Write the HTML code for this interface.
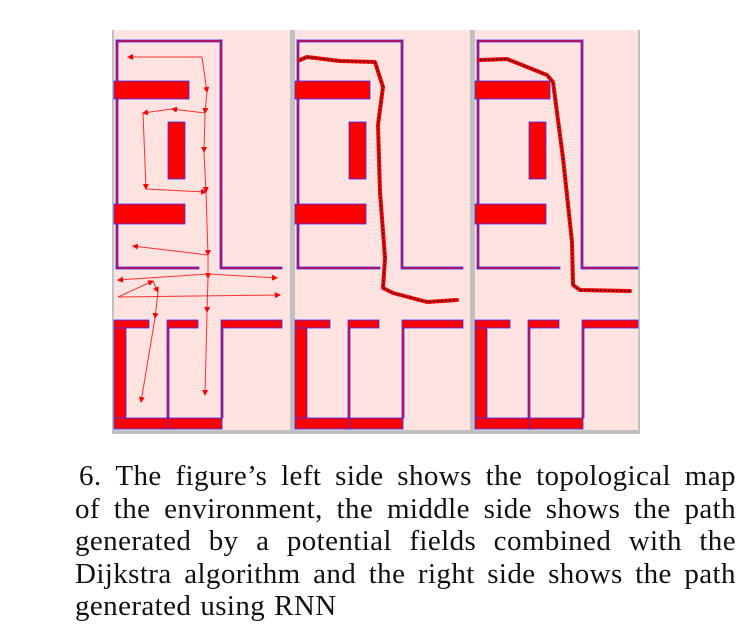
<!DOCTYPE html>
<html><head><meta charset="utf-8"><style>
html,body{margin:0;padding:0;background:#fff;width:750px;height:644px;overflow:hidden}
#cap{position:absolute;left:75px;top:460px;width:661px;font-family:"Liberation Serif",serif;font-size:29px;letter-spacing:0.4px;line-height:32.6px;color:#111}
#cap div{white-space:nowrap;display:flex;justify-content:space-between}
#cap div.last{justify-content:flex-start;gap:9px}
</style></head><body>
<svg id="fig" width="750" height="460" style="position:absolute;left:0;top:0">
<defs><marker id="ah" markerWidth="6" markerHeight="6" refX="5" refY="3" orient="auto"><path d="M0,0 L6,3 L0,6 z" fill="#f00"/></marker></defs>
</svg>
<div id="cap">
<div style="padding-left:4px"><span>6.</span><span>The</span><span>figure’s</span><span>left</span><span>side</span><span>shows</span><span>the</span><span>topological</span><span>map</span></div>
<div><span>of</span><span>the</span><span>environment,</span><span>the</span><span>middle</span><span>side</span><span>shows</span><span>the</span><span>path</span></div>
<div><span>generated</span><span>by</span><span>a</span><span>potential</span><span>fields</span><span>combined</span><span>with</span><span>the</span></div>
<div><span>Dijkstra</span><span>algorithm</span><span>and</span><span>the</span><span>right</span><span>side</span><span>shows</span><span>the</span><span>path</span></div>
<div class="last"><span>generated</span><span>using</span><span>RNN</span></div>
</div>
<script>
// panel-relative path data (x from panel left, absolute y)
const topoSegments = [
 [[88,57],[14,57]],
 [[88,57],[93,92],[91,113],[90,152],[92,192],[94,255],[94,278],[93,312],[91,395]],
 [[91,113],[58,109],[29,113],[32,189],[92,192]],
 [[94,255],[19,246]],
 [[94,274],[4,280]],
 [[94,274],[163,278]],
 [[4,297],[166,295]],
 [[4,297],[39,281],[44,292],[41,318],[27,402]]
];
const pfPath = [[5,60],[12,57],[45,61],[80,62],[88,87],[83,125],[85,192],[90,258],[88,288],[98,293],[132,302],[162,300]];
const rnnPath = [[5,60],[32,59],[72,75],[78,82],[88,158],[97,242],[98,285],[105,290],[155,291]];
const panelLefts = [114,295,475];
const svg = document.getElementById('fig');
const NS='http://www.w3.org/2000/svg';
function mk(t,a,name){const e=document.createElementNS(NS,t);for(const k in a)e.setAttribute(k,a[k]);


svg.appendChild(e);return e;}
mk('rect',{x:112,y:30,width:528,height:404,fill:'#c0c0c0'},'figure-frame');
const widths=[176,175,163];
panelLefts.forEach((L,i)=>{
 const W=widths[i];
 mk('rect',{x:L,y:30,width:W,height:400,fill:'#ffe3e1'},'panel-background');
 const wall=(x,y,w,h)=>mk('rect',{x:L+x,y:y,width:Math.min(w,W-x),height:h,fill:'#ff0000',stroke:'#3333ff','stroke-width':0.8},'wall');
 wall(2,40,106,2); wall(106,40,2,229); wall(2,40,2,229);
 wall(0,81,75,18); wall(54,122,17,57); wall(0,204,71,20);
 wall(2,267,83,2); wall(108,267,60,2);
 wall(0,320,35,8); wall(53,320,31,8); wall(107,320,61,8);
 wall(0,328,12,90); wall(53,328,2,90); wall(107,328,2,90);
 wall(0,418,54,11); wall(54,418,54,11);
});
const L0=panelLefts[0];
topoSegments.forEach(seg=>{
 for(let j=0;j<seg.length-1;j++){
  mk('line',{x1:L0+seg[j][0],y1:seg[j][1],x2:L0+seg[j+1][0],y2:seg[j+1][1],stroke:'#ff3030','stroke-width':1,'marker-end':'url(#ah)'},'topo-edge');
 }
});
function path(pts,L,name){
 const d=pts.map((p,k)=>(k?'L':'M')+(L+p[0])+','+p[1]).join(' ');
 mk('path',{d:d,fill:'none',stroke:'#ff0000','stroke-width':4,'stroke-linejoin':'round','stroke-linecap':'round'},name+'-outline');
 mk('path',{d:d,fill:'none',stroke:'#222','stroke-width':1.6,'stroke-dasharray':'2 2'},name);
}
path(pfPath,panelLefts[1],'potential-field-path');
path(rnnPath,panelLefts[2],'rnn-path');
</script>
</body></html>
